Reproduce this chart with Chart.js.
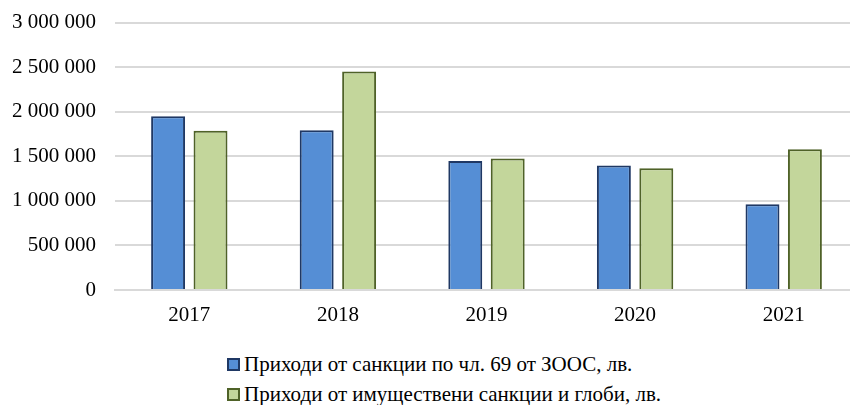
<!DOCTYPE html>
<html>
<head>
<meta charset="utf-8">
<script src="https://cdn.jsdelivr.net/npm/chart.js@4"></script>
<style>
  html, body { margin: 0; padding: 0; background: #fff; overflow: hidden; width: 850px; height: 405px; }
  #wrap { position: absolute; left: 0; top: -9px; width: 858px; height: 349px; }
  #legend { position: absolute; left: 227px; top: 349px; font-family: "Liberation Serif", "Times New Roman", serif; font-size: 21px; color: #000; }
  .item { display: flex; align-items: center; height: 30px; white-space: nowrap; }
  .box { width: 9px; height: 9px; border-width: 2px; border-style: solid; margin-right: 4px; }
</style>
</head>
<body>
<div id="wrap"><canvas id="c"></canvas></div>
<div id="legend"></div>
<script>
const categories = ["2017", "2018", "2019", "2020", "2021"];
const seriesNames = [
  "Приходи от санкции по чл. 69 от ЗООС, лв.",
  "Приходи от имуществени санкции и глоби, лв."
];
const sanctionsArt69 = [1948000, 1793000, 1447000, 1398000, 962000];
const finesAndSanctions = [1786000, 2451000, 1474000, 1365000, 1579000];
const yTicks = [0, 500000, 1000000, 1500000, 2000000, 2500000, 3000000];

const fills = ["#558ED5", "#C3D69B"];
const borders = ["#1F3864", "#4F6228"];

function fmt(v) {
  return String(v).replace(/\B(?=(\d{3})+(?!\d))/g, " ");
}

const font = { family: "'Liberation Serif', 'Times New Roman', serif", size: 21 };

new Chart(document.getElementById("c"), {
  type: "bar",
  data: {
    labels: categories,
    datasets: [
      { label: seriesNames[0], data: sanctionsArt69, backgroundColor: fills[0], borderColor: borders[0], borderWidth: 2 },
      { label: seriesNames[1], data: finesAndSanctions, backgroundColor: fills[1], borderColor: borders[1], borderWidth: 2 }
    ]
  },
  options: {
    responsive: true,
    maintainAspectRatio: false,
    animation: false,
    devicePixelRatio: 1,
    layout: { padding: { top: 15, right: 0, bottom: 0, left: 0 } },
    datasets: { bar: { categoryPercentage: 0.571, barPercentage: 0.8 } },
    plugins: { legend: { display: false }, tooltip: { enabled: false } },
    scales: {
      x: {
        grid: { display: false, drawTicks: false },
        border: { display: true, color: "#d9d9d9", width: 2 },
        ticks: { color: "#000", font: font, padding: 13 },
        afterFit: s => { s.height = 50; }
      },
      y: {
        min: 0, max: 3000000,
        afterBuildTicks: s => { s.ticks = yTicks.map(v => ({ value: v })); },
        grid: { color: "#d9d9d9", lineWidth: 2, drawTicks: false },
        border: { display: false },
        ticks: { color: "#000", font: font, padding: 19, callback: v => fmt(v) },
        afterFit: s => { s.width = 115; }
      }
    }
  }
});

const lg = document.getElementById("legend");
seriesNames.forEach((n, i) => {
  const it = document.createElement("div");
  it.className = "item";
  const b = document.createElement("span");
  b.className = "box";
  b.style.background = fills[i];
  b.style.borderColor = borders[i];
  const t = document.createElement("span");
  t.textContent = n;
  it.appendChild(b); it.appendChild(t);
  lg.appendChild(it);
});
</script>
</body>
</html>
